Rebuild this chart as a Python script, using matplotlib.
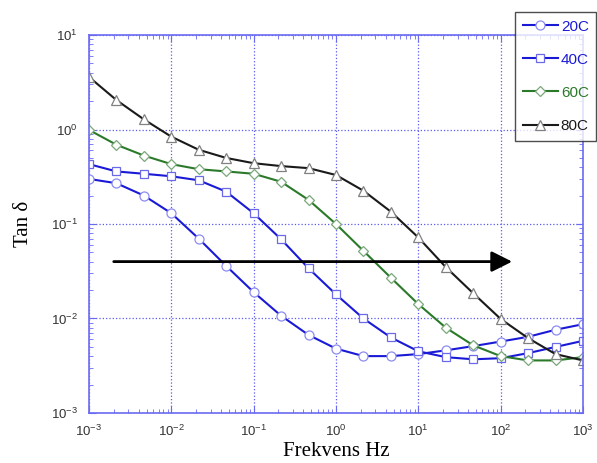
import matplotlib
matplotlib.use('Agg')
import matplotlib.pyplot as plt
import numpy as np

# frequency points, 3 per decade from 1e-3 to 1e3
freq_exp = [-3, -8/3, -7/3, -2, -5/3, -4/3, -1, -2/3, -1/3, 0,
            1/3, 2/3, 1, 4/3, 5/3, 2, 7/3, 8/3, 3]
freq = [10 ** e for e in freq_exp]

tan_20c = [0.30, 0.27, 0.20, 0.13, 0.070, 0.036, 0.019, 0.0107, 0.0067, 0.0048,
           0.0040, 0.0040, 0.0042, 0.0046, 0.0051, 0.0057, 0.0064, 0.0076, 0.0087]
tan_40c = [0.43, 0.36, 0.34, 0.32, 0.29, 0.22, 0.13, 0.069, 0.034, 0.018,
           0.010, 0.0063, 0.0045, 0.0039, 0.0037, 0.0038, 0.0043, 0.0050, 0.0058]
tan_60c = [0.99, 0.69, 0.53, 0.43, 0.38, 0.36, 0.34, 0.28, 0.18, 0.10,
           0.052, 0.027, 0.0142, 0.0080, 0.0052, 0.0040, 0.0036, 0.0036, 0.0039]
tan_80c = [3.6, 2.05, 1.28, 0.84, 0.61, 0.50, 0.44, 0.41, 0.39, 0.33,
           0.225, 0.135, 0.072, 0.035, 0.0185, 0.0099, 0.0062, 0.0042, 0.0036]

labels = ['20C', '40C', '60C', '80C']

# arrow marking the shift of the curves with temperature
arrow_x = [2e-3, 138]
arrow_y = 0.04

plt.rcParams['font.family'] = ['Liberation Sans', 'DejaVu Sans']
plt.rcParams['mathtext.default'] = 'regular'

fig = plt.figure(figsize=(5.97, 4.63), dpi=100)
ax = fig.add_axes([0.149, 0.108, 0.8275, 0.8164])

blue = '#1a1ad6'
styles = [
    dict(color=blue, marker='o', mec='#8c8cf0', ms=6.5),
    dict(color=blue, marker='s', mec='#6a6ae8', ms=6),
    dict(color='#2a7a2a', marker='D', mec='#7aa87a', ms=5.5),
    dict(color='#1a1a1a', marker='^', mec='#808080', ms=7.5),
]
series = [tan_20c, tan_40c, tan_60c, tan_80c]

for vals, lab, st in zip(series, labels, styles):
    ax.plot(freq, vals, lw=1.5, mfc='white', mew=0.9, label=lab, **st)

ax.annotate('', xy=(arrow_x[1], arrow_y), xytext=(arrow_x[0], arrow_y),
            arrowprops=dict(arrowstyle='-|>,head_length=1.0,head_width=0.5',
                            mutation_scale=12.5, lw=2, color='black',
                            shrinkA=0, shrinkB=0))

ax.set_xscale('log')
ax.set_yscale('log')
ax.set_xlim(1e-3, 1e3)
ax.set_ylim(1e-3, 1e1)

axis_blue = '#6b6bf2'
for sp in ax.spines.values():
    sp.set_color(axis_blue)
    sp.set_linewidth(1.2)
ax.tick_params(which='both', direction='in', top=True, right=True,
               color=axis_blue, labelcolor='#333333', labelsize=9.5)
ax.tick_params(which='major', length=5, pad=8)
ax.tick_params(which='minor', length=3)
ax.grid(True, which='major', color='#5a5af0', linestyle=':', linewidth=0.9)

ax.set_xlabel('Frekvens Hz', family='Liberation Serif', fontsize=15, labelpad=2)
ax.set_ylabel('Tan δ', family='Liberation Serif', fontsize=15, labelpad=13)

leg = fig.legend(loc='upper left', bbox_to_anchor=(515 / 597, 1 - 12 / 463),
                 borderaxespad=0, frameon=True, fancybox=False,
                 edgecolor='#222222', fontsize=11, handlelength=2.3,
                 labelspacing=1.25, borderpad=0.5, handletextpad=0.2)
leg.get_frame().set_linewidth(1.0)
for txt, st in zip(leg.get_texts(), styles):
    txt.set_color(st['color'])

plt.savefig('out.png', dpi=100)
